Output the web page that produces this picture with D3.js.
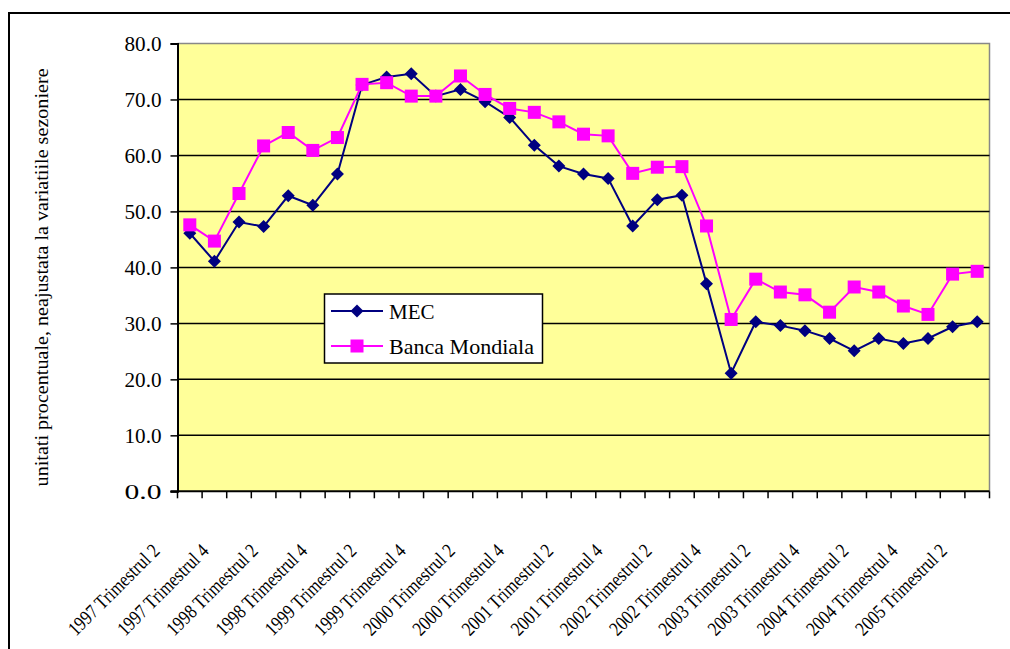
<!DOCTYPE html>
<html><head><meta charset="utf-8">
<script src="https://cdn.jsdelivr.net/npm/d3@7"></script>
<style>
html,body{margin:0;padding:0;background:#fff;}
svg{display:block;}
svg text{font-family:"Liberation Serif",serif !important;}
</style></head>
<body><svg id="chart" width="1010" height="649"></svg>
<script>
const categories = [
 "1997 Trimestrul 2","1997 Trimestrul 3","1997 Trimestrul 4",
 "1998 Trimestrul 1","1998 Trimestrul 2","1998 Trimestrul 3","1998 Trimestrul 4",
 "1999 Trimestrul 1","1999 Trimestrul 2","1999 Trimestrul 3","1999 Trimestrul 4",
 "2000 Trimestrul 1","2000 Trimestrul 2","2000 Trimestrul 3","2000 Trimestrul 4",
 "2001 Trimestrul 1","2001 Trimestrul 2","2001 Trimestrul 3","2001 Trimestrul 4",
 "2002 Trimestrul 1","2002 Trimestrul 2","2002 Trimestrul 3","2002 Trimestrul 4",
 "2003 Trimestrul 1","2003 Trimestrul 2","2003 Trimestrul 3","2003 Trimestrul 4",
 "2004 Trimestrul 1","2004 Trimestrul 2","2004 Trimestrul 3","2004 Trimestrul 4",
 "2005 Trimestrul 1","2005 Trimestrul 2"];
const mec = [46.1, 41.1, 48.1, 47.3, 52.8, 51.1, 56.7, 72.6, 74.0, 74.6, 70.6, 71.8, 69.6, 66.8, 61.8, 58.1, 56.7, 55.9, 47.4, 52.1, 52.9, 37.1, 21.1, 30.3, 29.6, 28.7, 27.3, 25.1, 27.3, 26.4, 27.3, 29.4, 30.3];
const bancaMondiala = [47.6, 44.7, 53.2, 61.7, 64.1, 60.9, 63.2, 72.7, 73.0, 70.6, 70.6, 74.2, 70.9, 68.4, 67.7, 66.0, 63.8, 63.5, 56.8, 57.9, 58.0, 47.4, 30.7, 37.9, 35.6, 35.1, 32.0, 36.5, 35.6, 33.1, 31.6, 38.8, 39.3];
const yTicks = [0, 10, 20, 30, 40, 50, 60, 70, 80];
const seriesNames = ["MEC", "Banca Mondiala"];
const yTitle = "unitati procentuale, neajustata la variatiile sezoniere";

const FONT = "Liberation Serif, serif";
const svg = d3.select("#chart").attr("font-family", FONT);
const L = 177.5, R = 989.5, T = 43.5, B = 491.3;

// outer frame
svg.append("line").attr("x1", 8).attr("x2", 1010).attr("y1", 13).attr("y2", 13).attr("stroke", "#000").attr("stroke-width", 2);
svg.append("line").attr("x1", 9).attr("x2", 9).attr("y1", 12).attr("y2", 649).attr("stroke", "#000").attr("stroke-width", 2);

const x = d3.scaleBand().domain(categories).range([L, R]).padding(0);
const y = d3.scaleLinear().domain([0, 80]).range([B, T]);
const cx = d => x(d) + x.bandwidth() / 2;

// plot background
svg.append("rect").attr("x", L).attr("y", T).attr("width", R - L).attr("height", B - T).attr("fill", "#FFFF99");
svg.append("path").attr("d", `M${L},${T}H${R}V${B}`).attr("fill", "none").attr("stroke", "#888").attr("stroke-width", 1.5);

// gridlines
svg.append("g").selectAll("line").data(yTicks.filter(v => v > 0 && v < 80)).join("line")
  .attr("x1", L).attr("x2", R).attr("y1", d => y(d)).attr("y2", d => y(d))
  .attr("stroke", "#000").attr("stroke-width", 1.5);

// y axis
const yAxis = d3.axisLeft(y).tickValues(yTicks).tickSize(7).tickPadding(9).tickFormat(d3.format(".1f"));
const gy = svg.append("g").attr("transform", `translate(${L},0)`).call(yAxis).attr("font-family", FONT);
gy.select(".domain").attr("stroke", "#000").attr("stroke-width", 2);
gy.selectAll(".tick line").attr("stroke", "#000").attr("stroke-width", 1.5);
gy.selectAll(".tick text").attr("font-size", 20)
  .attr("fill", "#000").attr("textLength", 37).attr("lengthAdjust", "spacingAndGlyphs").attr("dy", "0.35em");

// x axis ticks at category boundaries
const bounds = d3.range(categories.length + 1).map(i => L + i * x.bandwidth());
svg.append("g").selectAll("line").data(bounds).join("line")
  .attr("x1", d => d).attr("x2", d => d).attr("y1", B).attr("y2", B + 7)
  .attr("stroke", "#000").attr("stroke-width", 1.5);
svg.append("line").attr("x1", L - 7).attr("x2", R).attr("y1", B).attr("y2", B).attr("stroke", "#000").attr("stroke-width", 2);

// x labels (every other)
svg.append("g").selectAll("text").data(categories.filter((d, i) => i % 2 === 0)).join("text")
  .attr("transform", d => `translate(${cx(d) - 29},${552}) rotate(-45)`)
  .attr("text-anchor", "end").attr("font-size", 20).attr("fill", "#000")
  .attr("textLength", 120).attr("lengthAdjust", "spacingAndGlyphs")
  .text(d => d);

// y title
svg.append("text").attr("transform", `translate(48,${(T + B) / 2 + 10}) rotate(-90)`)
  .attr("text-anchor", "middle").attr("font-size", 18).attr("fill", "#000")
  .attr("textLength", 418).attr("lengthAdjust", "spacingAndGlyphs")
  .text(yTitle);

// series
const line = d3.line().x((d, i) => cx(categories[i])).y(d => y(d));
const colors = ["#000080", "#FF00FF"];
const data = [mec, bancaMondiala];
const diamond = s => `M0,${-s}L${s},0L0,${s}L${-s},0Z`;

data.forEach((vals, k) => {
  svg.append("path").datum(vals).attr("d", line).attr("fill", "none")
    .attr("stroke", colors[k]).attr("stroke-width", 2);
  const g = svg.append("g");
  if (k === 0) {
    g.selectAll("path").data(vals).join("path")
      .attr("transform", (d, i) => `translate(${cx(categories[i])},${y(d)})`)
      .attr("d", diamond(6.5)).attr("fill", colors[k]);
  } else {
    g.selectAll("rect").data(vals).join("rect")
      .attr("x", (d, i) => cx(categories[i]) - 6.5).attr("y", d => y(d) - 6.5)
      .attr("width", 13).attr("height", 13).attr("fill", colors[k]);
  }
});

// legend
const lg = svg.append("g");
lg.append("rect").attr("x", 324.5).attr("y", 294).attr("width", 218).attr("height", 69)
  .attr("fill", "#fff").attr("stroke", "#000").attr("stroke-width", 1.5);
const rows = [311, 346];
seriesNames.forEach((name, k) => {
  lg.append("line").attr("x1", 331).attr("x2", 383).attr("y1", rows[k]).attr("y2", rows[k])
    .attr("stroke", colors[k]).attr("stroke-width", 2);
  if (k === 0) {
    lg.append("path").attr("transform", `translate(357,${rows[k]})`).attr("d", diamond(6.5)).attr("fill", colors[k]);
  } else {
    lg.append("rect").attr("x", 357 - 6.5).attr("y", rows[k] - 6.5).attr("width", 13).attr("height", 13).attr("fill", colors[k]);
  }
  const t = lg.append("text").attr("x", 389).attr("y", rows[k] + 8).attr("font-size", 21).attr("fill", "#000").text(name);
  if (k === 1) t.attr("textLength", 145).attr("lengthAdjust", "spacingAndGlyphs");
});
svg.selectAll("text").attr("font-family", FONT);
</script></body></html>
